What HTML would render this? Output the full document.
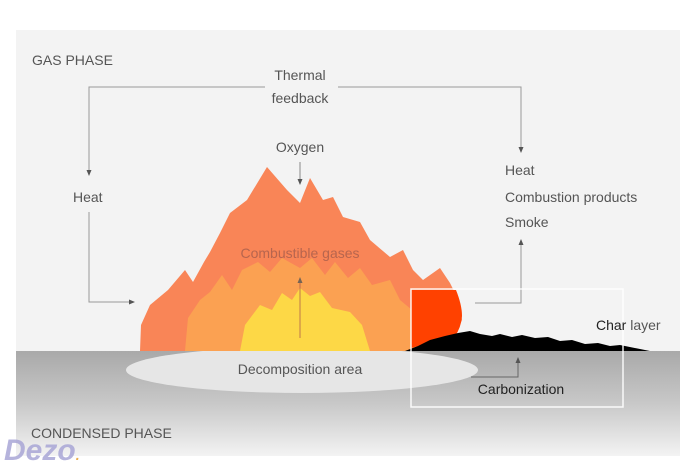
<!DOCTYPE html>
<html><head><meta charset="utf-8"><style>
html,body{margin:0;padding:0;background:#fff;}
svg{display:block;}
text{font-family:"Liberation Sans",sans-serif;}
</style></head><body>
<svg width="680" height="464" viewBox="0 0 680 464" xmlns="http://www.w3.org/2000/svg">
<defs>
<linearGradient id="g" x1="0" y1="0" x2="0" y2="1">
<stop offset="0" stop-color="#a9a9a9"/><stop offset="0.5" stop-color="#c8c8c8"/><stop offset="1" stop-color="#f3f3f3"/>
</linearGradient>
<marker id="a" markerWidth="6" markerHeight="6" refX="5" refY="3" orient="auto"><path d="M0,0.5 L6,3 L0,5.5z" fill="#555"/></marker>
</defs>
<rect x="16" y="30" width="664" height="321" fill="#f3f3f3"/>
<rect x="16" y="351" width="664" height="105" fill="url(#g)"/>
<rect x="0" y="456" width="680" height="8" fill="#fff"/>
<text x="32" y="65" font-size="14" fill="#555">GAS PHASE</text>
<text x="300" y="80" font-size="14" fill="#555" text-anchor="middle">Thermal</text>
<text x="300" y="103" font-size="14" fill="#555" text-anchor="middle">feedback</text>
<path d="M265,87 H89 V175" fill="none" stroke="#999" stroke-width="1" marker-end="url(#a)"/>
<path d="M338,87 H521 V152" fill="none" stroke="#999" stroke-width="1" marker-end="url(#a)"/>
<text x="73" y="202" font-size="14" fill="#555">Heat</text>
<path d="M89,212 V302 H134" fill="none" stroke="#999" stroke-width="1" marker-end="url(#a)"/>
<text x="300" y="152" font-size="14" fill="#555" text-anchor="middle">Oxygen</text>
<text x="505" y="175" font-size="14" fill="#555">Heat</text>
<text x="505" y="202" font-size="14" fill="#555">Combustion products</text>
<text x="505" y="227" font-size="14" fill="#555">Smoke</text>
<path d="M475,303 H521 V240" fill="none" stroke="#999" stroke-width="1" marker-end="url(#a)"/>
<ellipse cx="302" cy="370" rx="176" ry="23" fill="#e6e6e6"/>
<path d="M140,351 L141,325 L150,305 L168,290 L185,270 L193,282 L204,262 L210,252 L220,233 L230,213 L247,200 L267,167 L287,190 L300,203 L310,178 L323,200 L333,197 L343,217 L360,222 L370,240 L390,257 L403,250 L413,270 L423,280 L440,268 L450,283 L460,303 L462,320 L452,340 L430,351 Z" fill="#f98557"/>
<path d="M185,351 L188,318 L200,300 L210,292 L222,275 L232,290 L242,270 L258,262 L270,272 L282,258 L300,268 L312,258 L325,275 L335,262 L348,278 L360,268 L372,285 L390,280 L400,300 L412,310 L420,330 L415,351 Z" fill="#fba152"/>
<path d="M240,351 L245,325 L260,305 L272,310 L282,293 L292,300 L300,288 L310,296 L320,292 L332,308 L350,312 L362,325 L370,351 Z" fill="#fdd846"/>
<path d="M411,290 L456,290 Q462,305 462,316 Q461,328 455,336 L411,348 Z" fill="#ff4100"/>
<path d="M405,351 L418,346 L430,340 L445,336 L458,333 L470,331 L480,334 L492,336 L500,334 L512,337 L522,335 L535,338 L548,337 L560,341 L572,340 L585,344 L598,343 L610,346 L620,345 L650,351 Z" fill="#000"/>
<rect x="411" y="289" width="212" height="118" fill="none" stroke="#fff" stroke-width="1.5" opacity="0.9"/>
<path d="M300,338 V278" fill="none" stroke="#b0604a" stroke-width="1" marker-end="url(#a)" opacity="0.8"/>
<path d="M300,162 V184" fill="none" stroke="#888" stroke-width="1" marker-end="url(#a)"/>
<text x="300" y="258" font-size="14" fill="#b7654e" text-anchor="middle">Combustible gases</text>
<text x="300" y="374" font-size="14" fill="#555" text-anchor="middle">Decomposition area</text>
<path d="M471,377 H518 V358" fill="none" stroke="#666" stroke-width="1" marker-end="url(#a)"/>
<text x="521" y="394" font-size="14" fill="#222" text-anchor="middle">Carbonization</text>
<text x="596" y="330" font-size="14" fill="#222">Char <tspan fill="#555">layer</tspan></text>
<text x="31" y="438" font-size="14" fill="#555">CONDENSED PHASE</text>
<text x="4" y="460" font-size="30" font-weight="bold" font-style="italic" fill="#a9a6d6" opacity="0.85">Dezo<tspan fill="#e8a030" font-size="14">.</tspan></text>
</svg>
</body></html>
